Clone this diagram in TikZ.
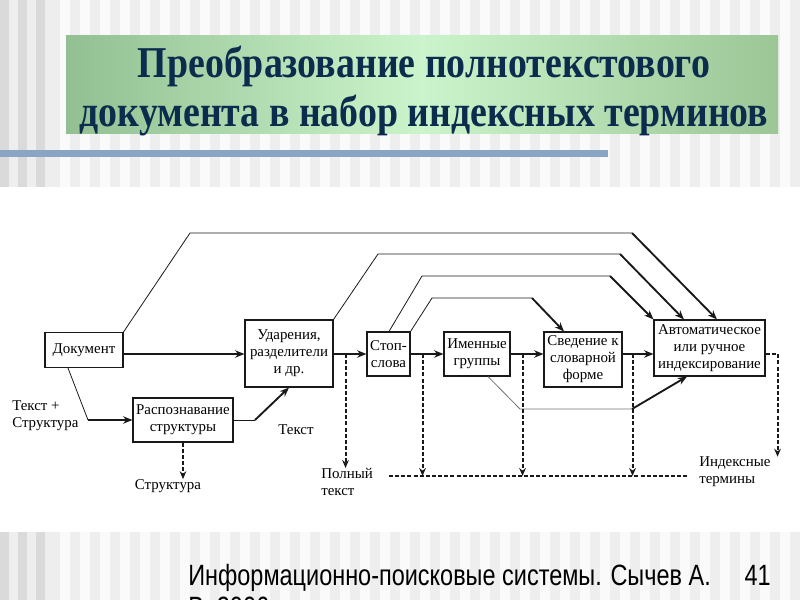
\documentclass[tikz,border=0pt]{standalone}
\usepackage{fontspec}
\setmainfont{Liberation Serif}
\newfontfamily\titlefont[FakeStretch=0.86]{Liberation Serif}
\newfontfamily\footfont[FakeStretch=0.8]{Liberation Sans}
\usetikzlibrary{arrows.meta, calc}
\definecolor{stripeA}{RGB}{238,238,238}
\definecolor{stripeB}{RGB}{250,250,250}
\definecolor{stripeC}{RGB}{218,218,218}
\definecolor{bannerL}{RGB}{146,192,146}
\definecolor{bannerM}{RGB}{204,244,204}
\definecolor{bannerR}{RGB}{156,198,150}
\definecolor{titleblue}{RGB}{12,44,78}
\definecolor{rule}{RGB}{138,165,195}
\definecolor{ink}{RGB}{25,25,25}

\begin{document}
\begin{tikzpicture}[x=0.75pt, y=-0.75pt, >=Stealth,
  box/.style 2 args={draw=ink, fill=white, line width=0.8pt, align=center,
    inner sep=1pt, minimum width=#1*0.75pt, minimum height=#2*0.75pt,
    font=\fontsize{11.2}{12.8}\selectfont},
  lbl/.style={font=\fontsize{11.2}{12.8}\selectfont, align=left, inner sep=0pt},
  flow/.style={ink, -{Stealth[length=7pt,width=5.5pt]}, line width=1.4pt},
  route/.style={ink, line width=0.6pt},
  outflow/.style={ink, -{Stealth[length=6pt,width=5pt]}, line width=1.5pt,
    dash pattern=on 3pt off 1.6pt},
  pooled/.style={ink, line width=1.5pt, dash pattern=on 3pt off 1.6pt},
  footer/.style={font=\footfont\fontsize{22}{26}\selectfont, inner sep=0pt}]
  \useasboundingbox (0,0) rectangle (800,600);
  % Background stripes
  \fill[stripeA] (0,0) rectangle (800,187);
  \fill[stripeA] (0,532) rectangle (800,600);
  \foreach \x in {60,80,...,780} {
    \fill[stripeB] (\x,0) rectangle ++(10,187);
    \fill[stripeB] (\x,532) rectangle ++(10,68);
  }
  \foreach \x in {0,18,36} {
    \fill[stripeC] (\x,0) rectangle ++(9,187);
    \fill[stripeC] (\x,532) rectangle ++(9,68);
  }
  % Title banner
  \shade[left color=bannerL, right color=bannerR, middle color=bannerM]
    (66,35) rectangle (778,133);
  \fill[rule] (0,150) rectangle (608,157);
  \node[font=\titlefont\bfseries\fontsize{33}{37}\selectfont, text=titleblue,
    align=center] (title) at (424,91)
    {Преобразование полнотекстового\\документа в набор индексных терминов};
  % Footer
  \begin{scope}
    \clip (0,0) rectangle (800,600);
    \node[footer, anchor=base west] (foot) at (188,585)
      {Информационно-поисковые системы. Сычев А.};
    \node[footer, anchor=base west] (foot2) at ($(foot.base west)+(0,32)$) {В. 2006};
  \end{scope}
  \node[footer, anchor=base east] (page) at (771,585) {41};

  % Boxes
  \node[box={78}{35}] (doc) at (84,350) {Документ};
  \node[box={100}{44}] (recog) at (183,420) {Распознавание\\структуры};
  \node[box={88}{67}] (accent) at (289,353.5) {Ударения,\\разделители\\и др.};
  \node[box={43}{44}] (stop) at (388.5,354) {Стоп-\\слова};
  \node[box={66}{44}] (noun) at (477,354) {Именные\\группы};
  \node[box={78}{55}] (norm) at (583,359.5) {Сведение к\\словарной\\форме};
  \node[box={111}{56}] (auto) at (709.5,348) {Автоматическое\\или ручное\\индексирование};
  % Labels
  \node[lbl, anchor=west] (input) at (12,416) {Текст +\\Структура};
  \node[lbl] (text) at (296,430) {Текст};
  \node[lbl] (struct) at (168,486) {Структура};
  \node[lbl, anchor=west] (full) at (321,482) {Полный\\текст};
  \node[lbl, anchor=west] (idx) at (699,472) {Индексные\\термины};

  % Main row
  \coordinate (row) at (0,354);
  \coordinate (pool) at (0,476);
  \draw[flow] (doc.east |- row) -- (accent.west |- row);
  \draw[flow] (accent.east |- row) -- (stop.west |- row);
  \draw[flow] (stop.east |- row) -- (noun.west |- row);
  \draw[flow] (noun.east |- row) -- (norm.west |- row);
  \draw[flow] (norm.east |- row) -- (auto.west |- row);

  % Structure branch
  \draw[route] ($(doc.south)+(-16,0)$) -- (88,420) coordinate (b1);
  \draw[flow] (b1) -- (recog.west);
  \draw[route] (recog.east) -- (255,420) coordinate (b2);
  \draw[flow] (b2) -- (accent.south);

  % Bypass routes
  \draw[route] (doc.north east) -- (190,233) -- (632,233) coordinate (r1);
  \draw[flow] (r1) -- ($(auto.north)+(7.5,0)$);
  \draw[route] (accent.north east) -- (378,254) -- (620,254) coordinate (r2);
  \draw[flow] (r2) -- ($(auto.north)+(-25.5,0)$);
  \draw[route] ($(stop.north)+(0.5,0)$) -- (422,276) -- (610,276) coordinate (r3);
  \draw[flow] (r3) -- (auto.north west);
  \draw[route] (stop.north east) -- (432,298) -- (532,298) coordinate (r4);
  \draw[flow] (r4) -- ($(norm.north)+(-19,0)$);
  \draw[route, black!55] ($(noun.south)+(11,0)$) -- (520,409) -- (632,409) coordinate (r5);
  \draw[flow] (r5) -- ($(auto.south)+(-22.5,0)$);

  % Outputs
  \coordinate (t1) at ($(accent.east |- row)+(12,0)$);
  \coordinate (t2) at ($(stop.east |- row)+(12,0)$);
  \coordinate (t3) at ($(noun.east |- row)+(12,0)$);
  \coordinate (t4) at ($(norm.east |- row)+(10,0)$);
  \coordinate (t5) at ($(auto.east |- row)+(12,0)$);
  \draw[outflow] (t1) -- (t1 |- full.north);
  \foreach \t in {t2,t3,t4}
    \draw[outflow] (\t) -- (\t |- pool);
  \draw[pooled] ($(full.east |- pool)+(16,0)$) -- ($(idx.west |- pool)+(-12,0)$);
  \draw[outflow] (auto.east |- row) -- (t5) -- (t5 |- idx.north);
  \draw[outflow] (recog.south) -- (recog.south |- struct.north);
\end{tikzpicture}
\end{document}
